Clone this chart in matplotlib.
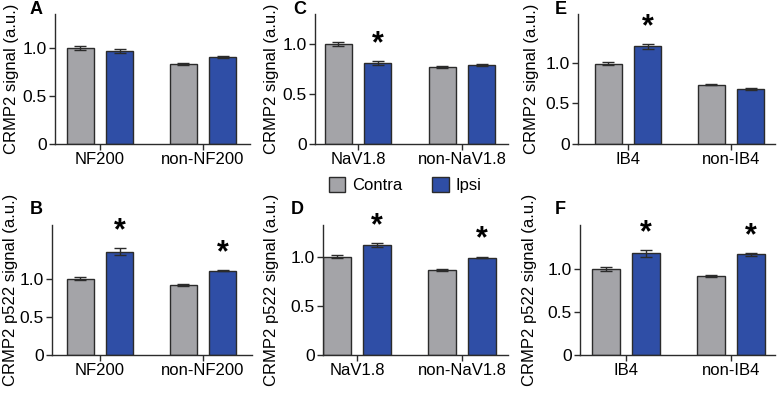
import numpy as np
import matplotlib
matplotlib.use("Agg")
import matplotlib.pyplot as plt
from matplotlib.patches import Patch

plt.rcParams['font.family'] = ['Liberation Sans', 'DejaVu Sans']

# data
series = ["Contra", "Ipsi"]
panels = ["A", "C", "E", "B", "D", "F"]
groups = {
    "A": ["NF200", "non-NF200"], "B": ["NF200", "non-NF200"],
    "C": ["NaV1.8", "non-NaV1.8"], "D": ["NaV1.8", "non-NaV1.8"],
    "E": ["IB4", "non-IB4"], "F": ["IB4", "non-IB4"],
}
contra = {"A": [1.00, 0.83], "C": [1.00, 0.77], "E": [0.99, 0.73],
          "B": [1.00, 0.92], "D": [1.00, 0.86], "F": [1.00, 0.92]}
ipsi = {"A": [0.97, 0.90], "C": [0.81, 0.79], "E": [1.20, 0.68],
        "B": [1.36, 1.11], "D": [1.12, 0.99], "F": [1.18, 1.17]}
contra_err = {"A": [0.02, 0.01], "C": [0.02, 0.01], "E": [0.02, 0.01],
              "B": [0.02, 0.01], "D": [0.02, 0.01], "F": [0.02, 0.01]}
ipsi_err = {"A": [0.02, 0.01], "C": [0.02, 0.01], "E": [0.03, 0.01],
            "B": [0.05, 0.01], "D": [0.02, 0.01], "F": [0.04, 0.02]}
signif = {"A": [False, False], "C": [True, False], "E": [True, False],
          "B": [True, True], "D": [True, True], "F": [True, True]}
ylabels = {"top": "CRMP2 signal (a.u.)", "bottom": "CRMP2 p522 signal (a.u.)"}
yticks = [0, 0.5, 1.0]
yticklabels = ["0", "0.5", "1.0"]

# layout in pixels: left, right, top, bottom, first group x, group spacing, ymax
W, H = 778, 395
layout = {
    "A": (55, 250, 14, 144, 100, 103, 1.35),
    "C": (315, 508, 14, 144, 358, 104, 1.30),
    "E": (578, 775, 14, 144, 628, 103, 1.60),
    "B": (52, 252, 225, 355, 100, 103, 1.71),
    "D": (323, 508, 225, 355, 357, 105, 1.32),
    "F": (580, 775, 225, 355, 626, 105, 1.51),
}
letter_pos = {"A": (30, 10), "C": (293, 10), "E": (555, 10),
              "B": (30, 210), "D": (291, 210), "F": (555, 210)}
ylabel_x = {"A": 19, "C": 279, "E": 539, "B": 18, "D": 279, "F": 537}

gray = "#a4a4a8"
blue = "#2f4ea6"
edge = "#2b2b2b"

fig = plt.figure(figsize=(W / 100, H / 100), dpi=100)

for p in panels:
    l, r, t, b, c0, sp, ymax = layout[p]
    ax = fig.add_axes([l / W, 1 - b / H, (r - l) / W, (b - t) / H])
    x = np.arange(2)
    w, off = 0.26, 0.19
    ax.bar(x - off, contra[p], w, yerr=contra_err[p], color=gray, edgecolor=edge,
           linewidth=1, error_kw=dict(ecolor=edge, elinewidth=1, capsize=4, capthick=1))
    ax.bar(x + off, ipsi[p], w, yerr=ipsi_err[p], color=blue, edgecolor=edge,
           linewidth=1, error_kw=dict(ecolor=edge, elinewidth=1, capsize=4, capthick=1))
    for i in range(2):
        if signif[p][i]:
            ax.text(x[i] + off, ipsi[p][i] + ipsi_err[p][i] + 0.02, "*",
                    ha="center", va="bottom", fontsize=22, fontweight="bold")
    ax.set_xlim((l - c0) / sp, (r - c0) / sp)
    ax.set_ylim(0, ymax)
    ax.set_xticks(x)
    ax.set_xticklabels(groups[p], fontsize=12)
    ax.set_yticks(yticks)
    ax.set_yticklabels(yticklabels, fontsize=12.5)
    for s in ["top", "right"]:
        ax.spines[s].set_visible(False)
    for s in ["left", "bottom"]:
        ax.spines[s].set_color(edge)
        ax.spines[s].set_linewidth(1)
    ax.tick_params(colors=edge, length=4, width=1, labelcolor="black", pad=2)
    row = "top" if p in "ACE" else "bottom"
    ax.set_ylabel(ylabels[row], fontsize=12)
    ax.yaxis.set_label_coords((ylabel_x[p] - l) / (r - l), 0.5)
    lx, ly = letter_pos[p]
    fig.text(lx / W, 1 - ly / H, p, fontsize=13, fontweight="bold", va="center")

handles = [Patch(facecolor=gray, edgecolor=edge, label=series[0]),
           Patch(facecolor=blue, edgecolor=edge, label=series[1])]
fig.legend(handles=handles, loc="center", bbox_to_anchor=(405 / W, 1 - 185 / H),
           ncol=2, frameon=False, fontsize=12, handlelength=1.0, handleheight=1.0,
           handletextpad=0.4, columnspacing=1.8, borderpad=0)

fig.savefig("out.png", dpi=100)
